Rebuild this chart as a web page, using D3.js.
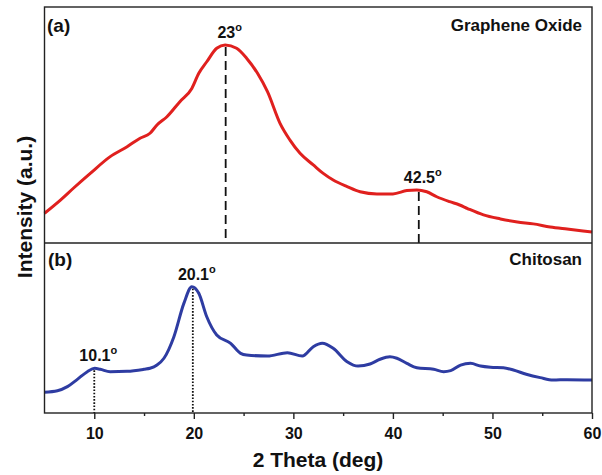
<!DOCTYPE html>
<html>
<head>
<meta charset="utf-8">
<script src="https://cdn.jsdelivr.net/npm/d3@7"></script>
<style>
  body { margin: 0; background: #fff; }
  text { font-family: "Liberation Sans", Arial, sans-serif; font-weight: bold; fill: #111; }
</style>
</head>
<body>
<div id="chart"></div>
<script>
// graphene oxide pattern, 2 theta (deg) and intensity (a.u.)
var goTheta = [5.0, 6.6, 7.9, 9.6, 11.6, 13.3, 14.6, 15.6, 16.3, 17.3, 18.6, 19.8, 20.5, 21.3,
  22.3, 23.15, 24.3, 25.3, 26.4, 27.4, 28.66, 29.66, 30.67, 32.0, 33.0, 34.0, 35.4, 36.7,
  38.4, 40.0, 41.4, 42.4, 43.4, 44.4, 45.7, 46.7, 47.5, 49.1, 50.8, 52.5, 54.1, 55.8, 57.5,
  59.1, 60.0];
var goInt = [12.6, 18.2, 23.2, 29.5, 36.6, 40.8, 44.4, 46.5, 50.0, 53.5, 59.9, 65.5, 71.9, 76.8,
  82.5, 83.9, 82.5, 78.3, 71.9, 64.1, 50.7, 43.6, 38.0, 33.1, 29.5, 26.7, 23.9, 21.7,
  20.8, 20.8, 22.2, 22.5, 21.7, 19.6, 17.5, 16.1, 14.6, 11.9, 10.2, 8.9, 8.1, 6.8, 5.9,
  5.1, 4.7];

// chitosan pattern
var chTheta = [5.0, 6.3, 7.3, 8.3, 9.3, 10.05, 10.6, 11.6, 13.3, 15.0, 15.6, 16.3, 17.0, 18.0,
  19.0, 19.8, 20.5, 21.3, 22.3, 23.7, 24.7, 25.3, 27.4, 29.4, 30.9, 32.0, 32.9, 34.0, 35.4,
  36.5, 37.7, 38.7, 39.7, 40.4, 41.4, 42.4, 44.1, 45.1, 45.8, 46.8, 47.8, 48.8, 49.8, 51.1,
  52.1, 53.4, 54.8, 56.1, 57.5, 60.0];
var chInt = [12.2, 13.1, 15.5, 19.8, 24.3, 26.3, 25.7, 24.3, 24.5, 25.7, 26.3, 28.2, 32.2, 44.9,
  64.5, 74.3, 70.4, 56.6, 45.9, 41.0, 35.1, 34.1, 33.5, 35.5, 33.5, 39.0, 41.0, 38.1, 30.2,
  27.6, 28.8, 31.6, 33.1, 32.2, 29.2, 26.6, 25.7, 24.3, 24.9, 28.2, 29.2, 27.6, 26.9, 26.6,
  25.3, 22.8, 20.8, 19.4, 19.6, 19.4];

// marked peaks
var goPeakTheta = [23.2, 42.6];
var goPeakInt = [83.9, 22.5];
var goPeakLabel = ["23", "42.5"];
var chPeakTheta = [10.0, 19.9];
var chPeakInt = [26.3, 74.3];
var chPeakLabel = ["10.1", "20.1"];

var xTicks = [10, 20, 30, 40, 50, 60];
var xMinor = [15, 25, 35, 45, 55];

var W = 602, H = 475;
var m = {left: 44.5, right: 592, top: 7, mid: 243, bottom: 413};

var svg = d3.select("#chart").append("svg")
    .attr("width", W)
    .attr("height", H);

var x = d3.scaleLinear().domain([5, 60]).range([m.left, m.right]);
var yA = d3.scaleLinear().domain([0, 100]).range([m.mid, m.top]);
var yB = d3.scaleLinear().domain([0, 100]).range([m.bottom, m.mid]);

// curves
var goData = goTheta.map(function(t, i) { return [t, goInt[i]]; });
var chData = chTheta.map(function(t, i) { return [t, chInt[i]]; });

svg.append("path")
    .datum(goData)
    .attr("fill", "none")
    .attr("stroke", "#e0201e")
    .attr("stroke-width", 3)
    .attr("stroke-linejoin", "round")
    .attr("d", d3.line()
      .x(function(d) { return x(d[0]); })
      .y(function(d) { return yA(d[1]); })
      .curve(d3.curveMonotoneX));

svg.append("path")
    .datum(chData)
    .attr("fill", "none")
    .attr("stroke", "#2e3ca2")
    .attr("stroke-width", 3)
    .attr("stroke-linejoin", "round")
    .attr("d", d3.line()
      .x(function(d) { return x(d[0]); })
      .y(function(d) { return yB(d[1]); })
      .curve(d3.curveMonotoneX));

// peak markers
function peakMarks(thetas, ints, labels, y, base, dash) {
  thetas.forEach(function(t, i) {
    svg.append("line")
      .attr("x1", x(t)).attr("x2", x(t))
      .attr("y1", y(ints[i]) + 2).attr("y2", base)
      .attr("stroke", "#111")
      .attr("stroke-width", 1.8)
      .attr("stroke-dasharray", dash);
    var lab = svg.append("text")
      .attr("x", x(t) + 4)
      .attr("y", y(ints[i]) - 7)
      .attr("text-anchor", "middle")
      .style("font-size", "16px");
    lab.append("tspan").text(labels[i]);
    lab.append("tspan").text("o").attr("dy", -7).style("font-size", "11px");
  });
}
peakMarks(goPeakTheta, goPeakInt, goPeakLabel, yA, m.mid, "9,5");
peakMarks(chPeakTheta, chPeakInt, chPeakLabel, yB, m.bottom, "1.6,1.6");

// frames
svg.append("rect")
    .attr("x", m.left).attr("y", m.top)
    .attr("width", m.right - m.left).attr("height", m.bottom - m.top)
    .attr("fill", "none").attr("stroke", "#222").attr("stroke-width", 1.4);
svg.append("line")
    .attr("x1", m.left).attr("x2", m.right)
    .attr("y1", m.mid).attr("y2", m.mid)
    .attr("stroke", "#222").attr("stroke-width", 1.4);

// x axis
var xAxis = svg.append("g")
    .attr("transform", "translate(0," + m.bottom + ")")
    .call(d3.axisBottom(x).tickValues(xTicks).tickSize(6).tickPadding(9).tickFormat(d3.format("d")));
xAxis.select(".domain").remove();
xAxis.selectAll("line").attr("stroke", "#222").attr("stroke-width", 1.4);
xAxis.selectAll("text").style("font-size", "16px").attr("font-family", null);

svg.append("g")
    .attr("transform", "translate(0," + m.bottom + ")")
    .call(d3.axisBottom(x).tickValues(xMinor).tickSize(3).tickFormat(""))
  .call(function(g) { g.select(".domain").remove(); })
  .selectAll("line").attr("stroke", "#222").attr("stroke-width", 1.4);

// panel labels
svg.append("text").attr("x", 47).attr("y", 32).style("font-size", "19px").text("(a)");
svg.append("text").attr("x", 48).attr("y", 266).style("font-size", "19px").text("(b)");
svg.append("text").attr("x", 582).attr("y", 31).attr("text-anchor", "end")
    .style("font-size", "17px").text("Graphene Oxide");
svg.append("text").attr("x", 582).attr("y", 265).attr("text-anchor", "end")
    .style("font-size", "17px").text("Chitosan");

// axis titles
svg.append("text")
    .attr("x", 318)
    .attr("y", 467)
    .attr("text-anchor", "middle")
    .style("font-size", "21px")
    .text("2 Theta (deg)");
svg.append("text")
    .attr("transform", "translate(32," + 207 + ") rotate(-90)")
    .attr("text-anchor", "middle")
    .style("font-size", "21px")
    .text("Intensity (a.u.)");
</script>
</body>
</html>
